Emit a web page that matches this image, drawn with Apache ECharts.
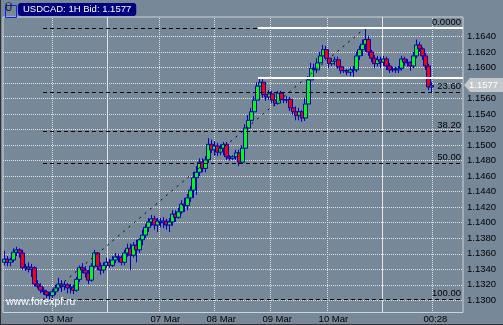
<!DOCTYPE html>
<html><head><meta charset="utf-8">
<script src="https://cdn.jsdelivr.net/npm/echarts@6/dist/echarts.min.js"></script>
<style>html,body{margin:0;padding:0;background:#778899;overflow:hidden}#c{width:503px;height:325px}</style>
</head><body><div id="c"></div>
<script>
const titleText = 'USDCAD: 1H Bid: 1.1577';
const watermark = 'www.forexpf.ru';
const lastPrice = 1.1577;

const openP = [
1.1349,1.1353,1.1349,1.1352,1.1362,1.1365,1.1361,1.1342,1.1343,1.1340,
1.1342,1.1321,1.1318,1.1313,1.1311,1.1307,1.1306,1.1311,1.1316,1.1321,
1.1318,1.1320,1.1316,1.1317,1.1313,1.1327,1.1342,1.1339,1.1335,1.1326,
1.1344,1.1361,1.1344,1.1339,1.1345,1.1349,1.1345,1.1352,1.1356,1.1355,
1.1349,1.1361,1.1367,1.1358,1.1371,1.1365,1.1378,1.1384,1.1394,1.1401,
1.1405,1.1397,1.1402,1.1400,1.1402,1.1397,1.1401,1.1411,1.1407,1.1414,
1.1424,1.1422,1.1432,1.1442,1.1458,1.1465,1.1478,1.1470,1.1481,1.1501,
1.1494,1.1499,1.1491,1.1496,1.1501,1.1485,1.1483,1.1485,1.1490,1.1478,
1.1496,1.1522,1.1532,1.1543,1.1558,1.1576,1.1581,1.1565,1.1562,1.1566,
1.1558,1.1554,1.1567,1.1559,1.1558,1.1559,1.1548,1.1543,1.1538,1.1543,
1.1535,1.1553,1.1584,1.1599,1.1597,1.1606,1.1615,1.1623,1.1612,1.1605,
1.1608,1.1610,1.1601,1.1596,1.1596,1.1594,1.1597,1.1597,1.1615,1.1623,
1.1630,1.1636,1.1620,1.1612,1.1605,1.1610,1.1607,1.1611,1.1602,1.1597,
1.1598,1.1597,1.1599,1.1611,1.1607,1.1606,1.1602,1.1615,1.1629,1.1624,
1.1615,1.1602,1.1575];
const closeP = [
1.1353,1.1349,1.1352,1.1362,1.1365,1.1361,1.1342,1.1343,1.1340,1.1342,
1.1321,1.1318,1.1313,1.1311,1.1307,1.1306,1.1311,1.1316,1.1321,1.1318,
1.1320,1.1316,1.1317,1.1313,1.1327,1.1342,1.1339,1.1335,1.1326,1.1344,
1.1361,1.1344,1.1339,1.1345,1.1349,1.1345,1.1352,1.1356,1.1355,1.1349,
1.1361,1.1367,1.1358,1.1371,1.1365,1.1378,1.1384,1.1394,1.1401,1.1405,
1.1397,1.1402,1.1400,1.1402,1.1397,1.1401,1.1411,1.1407,1.1414,1.1424,
1.1422,1.1432,1.1442,1.1458,1.1465,1.1478,1.1470,1.1481,1.1501,1.1494,
1.1499,1.1491,1.1496,1.1501,1.1485,1.1483,1.1485,1.1490,1.1478,1.1496,
1.1522,1.1532,1.1543,1.1558,1.1576,1.1581,1.1565,1.1562,1.1566,1.1558,
1.1554,1.1567,1.1559,1.1558,1.1559,1.1548,1.1543,1.1538,1.1543,1.1535,
1.1553,1.1584,1.1599,1.1597,1.1606,1.1615,1.1623,1.1612,1.1605,1.1608,
1.1610,1.1601,1.1596,1.1596,1.1594,1.1597,1.1597,1.1615,1.1623,1.1630,
1.1636,1.1620,1.1612,1.1605,1.1610,1.1607,1.1611,1.1602,1.1597,1.1598,
1.1597,1.1599,1.1611,1.1607,1.1606,1.1602,1.1615,1.1629,1.1624,1.1615,
1.1602,1.1575,1.1577];
const lowP = [
1.1345,1.1344,1.1344,1.1349,1.1357,1.1355,1.1339,1.1338,1.1336,1.1330,
1.1318,1.1315,1.1309,1.1307,1.1303,1.1301,1.1303,1.1307,1.1312,1.1311,
1.1313,1.1309,1.1309,1.1308,1.1311,1.1324,1.1335,1.1329,1.1321,1.1324,
1.1342,1.1339,1.1333,1.1335,1.1342,1.1342,1.1343,1.1348,1.1349,1.1345,
1.1345,1.1356,1.1339,1.1355,1.1349,1.1361,1.1371,1.1380,1.1388,1.1396,
1.1391,1.1388,1.1394,1.1393,1.1391,1.1388,1.1396,1.1401,1.1405,1.1411,
1.1414,1.1416,1.1427,1.1432,1.1436,1.1460,1.1465,1.1465,1.1477,1.1490,
1.1487,1.1486,1.1487,1.1487,1.1481,1.1480,1.1481,1.1481,1.1473,1.1476,
1.1494,1.1516,1.1527,1.1538,1.1553,1.1571,1.1561,1.1557,1.1558,1.1554,
1.1550,1.1552,1.1556,1.1554,1.1554,1.1544,1.1539,1.1532,1.1532,1.1530,
1.1531,1.1550,1.1581,1.1592,1.1593,1.1602,1.1610,1.1610,1.1599,1.1602,
1.1603,1.1598,1.1592,1.1593,1.1590,1.1589,1.1588,1.1594,1.1610,1.1615,
1.1620,1.1615,1.1607,1.1599,1.1601,1.1599,1.1602,1.1597,1.1593,1.1594,
1.1593,1.1593,1.1596,1.1602,1.1601,1.1596,1.1599,1.1612,1.1620,1.1610,
1.1597,1.1571,1.1568];
const highP = [
1.1364,1.1357,1.1355,1.1367,1.1369,1.1367,1.1365,1.1347,1.1349,1.1347,
1.1344,1.1326,1.1322,1.1317,1.1313,1.1311,1.1315,1.1320,1.1329,1.1326,
1.1324,1.1322,1.1321,1.1320,1.1330,1.1345,1.1348,1.1344,1.1339,1.1348,
1.1365,1.1362,1.1349,1.1349,1.1355,1.1353,1.1357,1.1361,1.1360,1.1358,
1.1365,1.1373,1.1373,1.1375,1.1378,1.1380,1.1391,1.1398,1.1406,1.1410,
1.1409,1.1406,1.1406,1.1407,1.1405,1.1406,1.1416,1.1416,1.1419,1.1429,
1.1432,1.1437,1.1447,1.1465,1.1473,1.1483,1.1483,1.1486,1.1509,1.1507,
1.1505,1.1503,1.1501,1.1504,1.1504,1.1487,1.1487,1.1494,1.1494,1.1500,
1.1527,1.1539,1.1548,1.1563,1.1581,1.1587,1.1585,1.1570,1.1571,1.1570,
1.1563,1.1570,1.1570,1.1562,1.1563,1.1562,1.1553,1.1550,1.1548,1.1545,
1.1561,1.1589,1.1606,1.1605,1.1612,1.1620,1.1629,1.1628,1.1615,1.1612,
1.1614,1.1614,1.1603,1.1598,1.1598,1.1601,1.1602,1.1620,1.1628,1.1636,
1.1651,1.1641,1.1623,1.1616,1.1615,1.1614,1.1615,1.1614,1.1606,1.1601,
1.1601,1.1602,1.1615,1.1614,1.1611,1.1608,1.1620,1.1636,1.1633,1.1626,
1.1619,1.1605,1.1581];

// y-axis ticks (the 1.1580 label is hidden under the price tag)
const yTicks = [1.1300,1.1320,1.1340,1.1360,1.1380,1.1400,1.1420,1.1440,1.1460,1.1480,
  1.1500,1.1520,1.1540,1.1560,1.1580,1.1600,1.1620,1.1640];
const yHiddenTick = 1.1580;
// x-axis: bar index of time grid lines and their labels
const xGridIdx = [15.8, 51.4, 70.0, 88.6, 107.3, 142.2];
const xLabels = ['03 Mar','07 Mar','08 Mar','09 Mar','10 Mar','00:28'];
// solid vertical lines (bar index)
const vLineIdx = [34.1, 125.6];
// Fibonacci retracement
const fibHigh = 1.1651, fibLow = 1.1301;
const fibLowIdx = 12.8, fibHighIdx = 120;
const fibRatios = [0, 0.236, 0.382, 0.5, 1];
const fibTexts = ['0.0000','23.60','38.20','50.00','100.00'];
// white horizontal lines
const hLineLevels = [1.1651, 1.1587];
const hLineStartIdx = 84.3;

const X_MIN = -0.5, X_MAX = 152.5;
const Y_MIN = 1.12843, Y_MAX = 1.16651;
const GRID_LEFT = 3, GRID_RIGHT = 40, GRID_TOP = 17, GRID_BOTTOM = 12.5;
const FONT = 'Liberation Sans, Arial, sans-serif';
const pxPerBar = (503 - GRID_LEFT - GRID_RIGHT) / (X_MAX - X_MIN);
const labelShift = 8.5 / pxPerBar;
const GRID_DOT = '#e2e2e2';

const candles = openP.map((o, i) => [i, o, closeP[i], lowP[i], highP[i]]);

const dotted = { color: GRID_DOT, type: [1, 1], width: 1 };

const objLines = [];
fibRatios.forEach((r, k) => {
  const lvl = fibHigh - (fibHigh - fibLow) * r;
  objLines.push([
    { coord: [fibLowIdx, lvl], lineStyle: { color: '#000', type: [4, 3], width: 1 },
      label: { show: true, position: 'insideEndTop', formatter: fibTexts[k], color: '#000',
        fontSize: 9.5, fontFamily: FONT, distance: [2, 1] } },
    { coord: [X_MAX, lvl] }
  ]);
});
objLines.push([
  { coord: [fibLowIdx, fibLow], lineStyle: { color: '#000', type: [2, 5], width: 1 }, label: { show: false } },
  { coord: [fibHighIdx, fibHigh] }
]);
hLineLevels.forEach(v => {
  objLines.push([
    { coord: [hLineStartIdx, v], lineStyle: { color: '#ffffff', type: 'solid', width: 2 }, label: { show: false } },
    { coord: [X_MAX, v] }
  ]);
});

const chart = echarts.init(document.getElementById('c'));
chart.setOption({
  animation: false,
  backgroundColor: '#778899',
  title: {
    text: titleText, left: 18, top: 3, padding: [1, 5, 1, 5],
    backgroundColor: '#000080', borderRadius: 3,
    textStyle: { color: '#ffffff', fontSize: 9.5, fontWeight: 'normal', fontFamily: FONT, lineHeight: 11 }
  },
  grid: { left: GRID_LEFT, right: GRID_RIGHT, top: GRID_TOP, bottom: GRID_BOTTOM, show: true,
    borderColor: '#cfd3d6', borderWidth: 1, backgroundColor: 'transparent' },
  xAxis: {
    type: 'value', min: X_MIN, max: X_MAX,
    axisLine: { show: false }, axisTick: { show: false }, splitLine: { show: false },
    axisLabel: {
      customValues: xGridIdx.map(v => v - labelShift),
      formatter: (v) => {
        let best = 0, d = 1e9;
        xGridIdx.forEach((g, i) => { const dd = Math.abs(g - labelShift - v); if (dd < d) { d = dd; best = i; } });
        return xLabels[best];
      },
      align: 'left', margin: 2, color: '#000', fontSize: 9.5, fontFamily: FONT
    }
  },
  yAxis: {
    type: 'value', position: 'right', min: Y_MIN, max: Y_MAX, scale: true,
    axisLine: { show: false },
    axisTick: { show: false, customValues: yTicks },
    splitLine: { show: true, lineStyle: dotted },
    axisLabel: {
      customValues: yTicks.filter(v => v !== yHiddenTick),
      formatter: (v) => v.toFixed(4),
      margin: 4, color: '#000', fontSize: 9.5, fontFamily: FONT
    }
  },
  series: [
    {
      type: 'candlestick', z: 3, data: candles, barWidth: 4.5,
      encode: { x: 0, y: [1, 2, 3, 4] },
      itemStyle: { color: '#00ff00', color0: '#ff0000', borderColor: '#0000c0', borderColor0: '#0000c0', borderWidth: 1 },
      markLine: { silent: true, symbol: 'none', animation: false, data: objLines }
    }
  ]
});

// Decorations placed through the chart's own scales
const plotTop = GRID_TOP, plotBottom = 325 - GRID_BOTTOM;
const gfx = [];
xGridIdx.forEach(v => {
  const px = Math.floor(chart.convertToPixel({ xAxisIndex: 0 }, v));
  for (let y = plotTop + 1; y < plotBottom - 1; y += 2) {
    gfx.push({ type: 'rect', z: 2, silent: true, shape: { x: px, y: y, width: 1, height: 1 },
      style: { fill: GRID_DOT } });
  }
});
vLineIdx.forEach(v => {
  const px = Math.floor(chart.convertToPixel({ xAxisIndex: 0 }, v));
  gfx.push({ type: 'rect', z: 2, silent: true,
    shape: { x: px, y: plotTop, width: 1, height: plotBottom - plotTop },
    style: { fill: '#e4e4e4' } });
});
const tagY = Math.round(chart.convertToPixel({ yAxisIndex: 0 }, lastPrice));
const tagX = 503 - GRID_RIGHT;
gfx.push({ type: 'polygon', z: 20, silent: true,
  shape: { points: [[tagX + 1, tagY], [tagX + 7, tagY - 7], [503, tagY - 7], [503, tagY + 7], [tagX + 7, tagY + 7]] },
  style: { fill: '#c4c8cc' } });
gfx.push({ type: 'text', z: 21, silent: true, x: tagX + 6, y: tagY,
  style: { text: lastPrice.toFixed(4), fill: '#ffffff', font: '9.5px ' + FONT, verticalAlign: 'middle' } });
gfx.push({ type: 'rect', left: 3, top: 3, shape: { width: 11, height: 12 },
  style: { fill: 'none', stroke: '#1020ff', lineWidth: 1 } });
gfx.push({ type: 'text', left: 5, top: 3, style: { text: 'Ū', fill: '#101010', font: '10px ' + FONT } });
gfx.push({ type: 'text', left: 6, top: 297, z: 10,
  style: { text: watermark, fill: '#ffffff', font: '10.5px ' + FONT } });
gfx.push({ type: 'line', shape: { x1: 0.5, y1: 0, x2: 0.5, y2: 325 }, style: { stroke: '#303030', lineWidth: 1 } });
gfx.push({ type: 'line', shape: { x1: 0, y1: 324.5, x2: 503, y2: 324.5 }, style: { stroke: '#303030', lineWidth: 1 } });
chart.setOption({ graphic: gfx });
</script>
</body></html>
